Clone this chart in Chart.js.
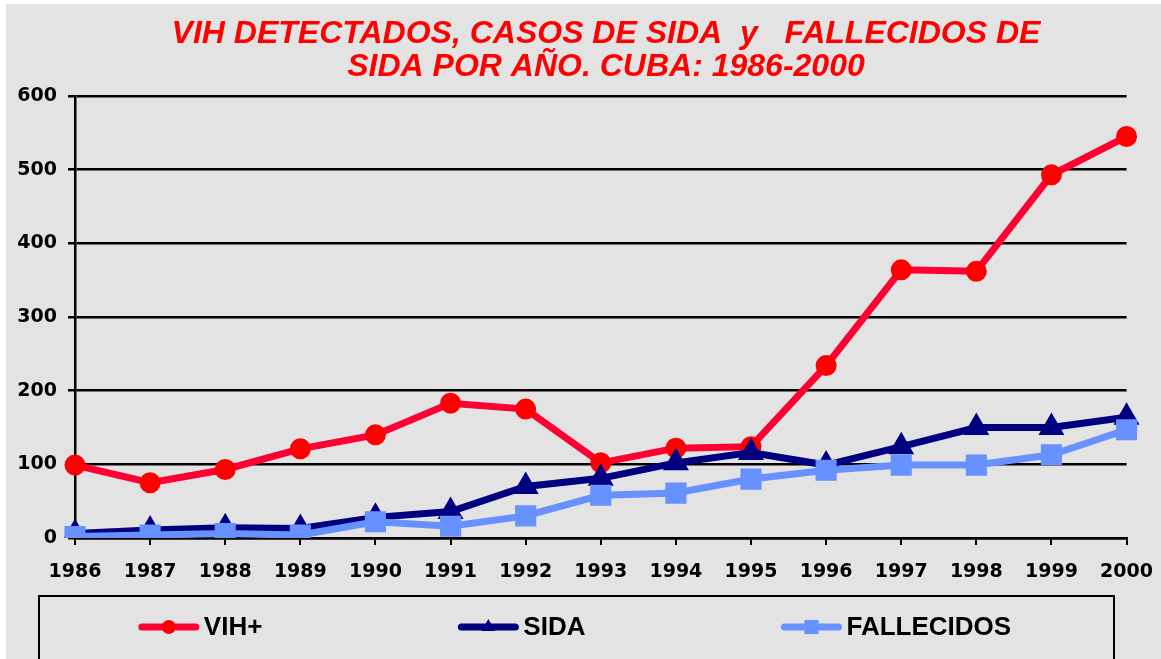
<!DOCTYPE html>
<html>
<head>
<meta charset="utf-8">
<script src="https://cdn.jsdelivr.net/npm/chart.js@4/dist/chart.umd.min.js"></script>
<style>
  body { margin: 0; background: #fff; }
  canvas { display: block; }
</style>
</head>
<body>
<canvas id="chart" width="1161" height="659"></canvas>
<script>
// datos
const years = ["1986","1987","1988","1989","1990","1991","1992","1993","1994","1995","1996","1997","1998","1999","2000"];
const vih = [99, 75, 93, 121, 140, 183, 175, 102, 122, 124, 234, 364, 362, 493, 545];
const sida = [6, 11, 14, 13, 28, 36, 70, 81, 102, 116, 99, 124, 150, 150, 164];
const fallecidos = [2, 4, 6, 4, 22, 16, 30, 58, 61, 80, 92, 99, 99, 113, 147];
const seriesNames = ["VIH+", "SIDA", "FALLECIDOS"];
const titleLines = ["VIH DETECTADOS, CASOS DE SIDA  y   FALLECIDOS DE", "SIDA POR AÑO. CUBA: 1986-2000"];

const tickFont = {family: "'DejaVu Sans', Verdana, sans-serif", weight: "bold", size: 19};

function marker(ctx, style, r, x, y){
  ctx.beginPath();
  if(style=="circle"){
    ctx.arc(x, y, r, 0, Math.PI*2);
  } else if(style=="triangle"){
    ctx.moveTo(x, y - r);
    ctx.lineTo(x + r*Math.sin(Math.PI*2/3), y - r*Math.cos(Math.PI*2/3));
    ctx.lineTo(x - r*Math.sin(Math.PI*2/3), y - r*Math.cos(Math.PI*2/3));
    ctx.closePath();
  } else {
    const s = r/Math.SQRT2;
    ctx.rect(x - s, y - s, s*2, s*2);
  }
  ctx.fill();
}

// fondo gris, titulo y leyenda con recuadro
const decor = {
  id: "decor",
  beforeDraw(chart){
    const ctx = chart.ctx;
    ctx.save();
    ctx.fillStyle = "#ffffff";
    ctx.fillRect(0, 0, chart.width, chart.height);
    ctx.fillStyle = "#e3e3e3";
    ctx.fillRect(6, 4, chart.width - 6, chart.height - 4);
    ctx.restore();
  },
  afterDraw(chart){
    const ctx = chart.ctx;
    ctx.save();
    ctx.fillStyle = "#ff0000";
    ctx.font = "italic bold 32px 'Liberation Sans', Arial, sans-serif";
    ctx.textAlign = "center";
    ctx.textBaseline = "alphabetic";
    ctx.fillText(titleLines[0], 606, 43);
    ctx.fillText(titleLines[1], 606, 76);

    // recuadro de la leyenda
    ctx.strokeStyle = "#000";
    ctx.lineWidth = 2;
    ctx.strokeRect(39, 596, 1075, 80);

    ctx.font = "bold 26px 'Liberation Sans', Arial, sans-serif";
    ctx.textAlign = "left";
    ctx.textBaseline = "middle";
    const gap = 196, lineW = 60, txtGap = 5;
    const ds = chart.data.datasets;
    const widths = ds.map(d => lineW + txtGap + ctx.measureText(d.label).width);
    const total = widths.reduce((a,b)=>a+b, 0) + gap*(ds.length-1);
    let x = 575 - total/2;
    const y = 627;
    ds.forEach((d, i)=>{
      ctx.strokeStyle = d.borderColor;
      ctx.lineWidth = d.borderWidth;
      ctx.lineCap = "round";
      ctx.beginPath();
      ctx.moveTo(x + 3, y);
      ctx.lineTo(x + lineW - 3, y);
      ctx.stroke();
      ctx.fillStyle = d.pointBackgroundColor;
      marker(ctx, d.pointStyle, d.pointRadius, x + lineW/2, y);
      ctx.fillStyle = "#000";
      ctx.fillText(d.label, x + lineW + txtGap, y + 1);
      x += widths[i] + gap;
    });
    ctx.restore();
  }
};

new Chart(document.getElementById("chart"), {
  type: "line",
  data: {
    labels: years,
    datasets: [
      {label: seriesNames[0], data: vih, borderColor: "#ff0033", backgroundColor: "#ff0000",
       pointBackgroundColor: "#ff0000", pointBorderColor: "#ff0000", pointStyle: "circle",
       pointRadius: 7, borderWidth: 7, tension: 0, order: 3},
      {label: seriesNames[1], data: sida, borderColor: "#000080", backgroundColor: "#000080",
       pointBackgroundColor: "#000080", pointBorderColor: "#000080", pointStyle: "triangle",
       pointRadius: 8, borderWidth: 7, tension: 0, order: 2},
      {label: seriesNames[2], data: fallecidos, borderColor: "#6691ff", backgroundColor: "#6691ff",
       pointBackgroundColor: "#6691ff", pointBorderColor: "#6691ff", pointStyle: "rect",
       pointRadius: 10, borderWidth: 7, tension: 0, order: 1}
    ]
  },
  options: {
    responsive: false,
    animation: false,
    layout: {padding: {left: 0, right: 34, top: 96, bottom: 69}},
    plugins: {legend: {display: false}, title: {display: false}, tooltip: {enabled: false}},
    scales: {
      x: {
        offset: false,
        grid: {display: true, drawOnChartArea: false, drawTicks: true, tickLength: 7, color: "#000", lineWidth: 2},
        border: {display: true, color: "#000", width: 2.5},
        ticks: {font: {...tickFont, lineHeight: 2.0}, color: "#000", padding: 8, maxRotation: 0, autoSkip: false},
        afterFit(s){ s.height = 52; }
      },
      y: {
        min: 0, max: 600,
        grid: {color: "#000", lineWidth: 2.5, tickLength: 7},
        border: {display: true, color: "#000", width: 2.5},
        ticks: {stepSize: 100, font: tickFont, color: "#000", padding: 11},
        afterFit(s){ s.width = 75; }
      }
    }
  },
  plugins: [decor]
});
</script>
</body>
</html>
